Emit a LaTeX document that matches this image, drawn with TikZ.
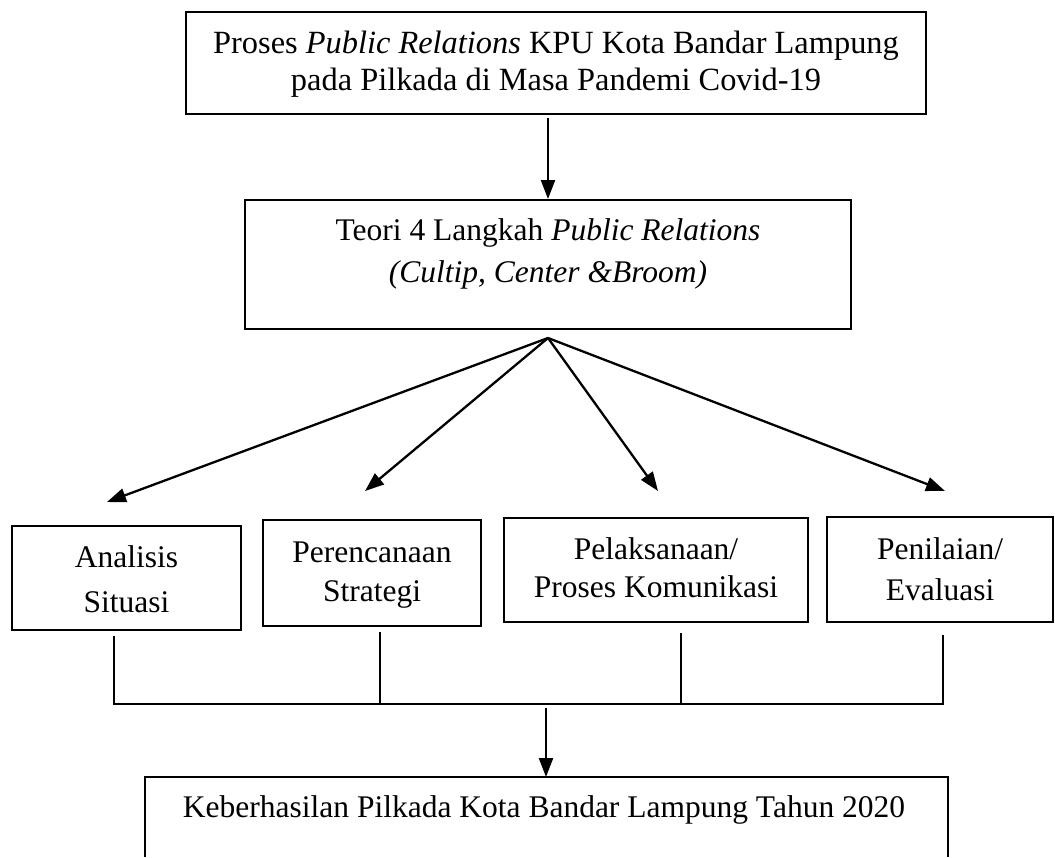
\documentclass[tikz,border=0pt]{standalone}
\usepackage{fontspec}
\setmainfont{Liberation Serif}
\usetikzlibrary{arrows.meta}
\begin{document}
\begin{tikzpicture}[x=1pt,y=-1pt,
  box/.style={draw, line width=1.4pt, inner sep=0pt},
  arr/.style={line width=2.3pt, -{Triangle[length=19pt,width=14pt]}},
  conn/.style={line width=1.4pt},
  txt/.style={align=center, inner sep=0pt, anchor=base}]
\useasboundingbox (0,0) rectangle (1055,857);
% boxes
\node[box, minimum width=740pt, minimum height=102pt] (top) at (556,63) {};
\node[box, minimum width=606pt, minimum height=129pt] (teori) at (548,264.5) {};
\node[box, minimum width=229pt, minimum height=104pt] (ana) at (126.5,578) {};
\node[box, minimum width=218pt, minimum height=106pt] (per) at (372,573) {};
\node[box, minimum width=304pt, minimum height=104pt] (pel) at (656,570) {};
\node[box, minimum width=226pt, minimum height=105pt] (pen) at (940,569.5) {};
% texts (anchor base = baseline of the last line)
\node[txt, font=\fontsize{32.4}{37}\selectfont] (toptxt) at (556,90) {Proses \textit{Public Relations} KPU Kota Bandar Lampung\\pada Pilkada di Masa Pandemi Covid-19};
\node[txt, font=\fontsize{31.5}{42}\selectfont] (teoritxt) at (548,282) {Teori 4 Langkah \textit{Public Relations}\\\textit{(Cultip, Center \&Broom)}};
\node[txt, font=\fontsize{31.5}{45}\selectfont] (anatxt) at (126.5,612) {Analisis\\Situasi};
\node[txt, font=\fontsize{31.5}{39}\selectfont] (pertxt) at (372,601) {Perencanaan\\Strategi};
\node[txt, font=\fontsize{31.5}{38}\selectfont] (peltxt) at (656,597) {Pelaksanaan/\\Proses Komunikasi};
\node[txt, font=\fontsize{31.5}{41}\selectfont] (pentxt) at (940,600) {Penilaian/\\Evaluasi};
\node[txt, font=\fontsize{31.5}{38}\selectfont] (hasil) at (544,817) {Keberhasilan Pilkada Kota Bandar Lampung Tahun 2020};
% bottom open box
\coordinate (bl) at (145,857);
\coordinate (br) at (948,857);
\coordinate (btl) at (145,777);
\coordinate (btr) at (948,777);
\draw[conn] (bl) -- (btl) -- (btr) -- (br);
% arrows
\coordinate (t1) at (548,118);
\coordinate (t2) at (548,199);
\draw[arr] (t1) -- (t2);
\coordinate (apex) at (548,338);
\coordinate (ha) at (107,502);
\coordinate (hp) at (365,491);
\coordinate (hl) at (658,491);
\coordinate (hn) at (945,491);
\draw[arr] (apex) -- (ha);
\draw[arr] (apex) -- (hp);
\draw[arr] (apex) -- (hl);
\draw[arr] (apex) -- (hn);
% joining lines
\coordinate (va) at (114,636);
\coordinate (vp) at (380,632);
\coordinate (vl) at (681,633);
\coordinate (vn) at (943,635);
\coordinate (ja) at (114,704);
\coordinate (jp) at (380,704);
\coordinate (jl) at (681,704);
\coordinate (jn) at (943,704);
\draw[conn] (va) -- (ja) -- (jn) -- (vn);
\draw[conn] (vp) -- (jp);
\draw[conn] (vl) -- (jl);
\coordinate (b1) at (546,708);
\coordinate (b2) at (546,777);
\draw[arr] (b1) -- (b2);
\end{tikzpicture}
\end{document}
